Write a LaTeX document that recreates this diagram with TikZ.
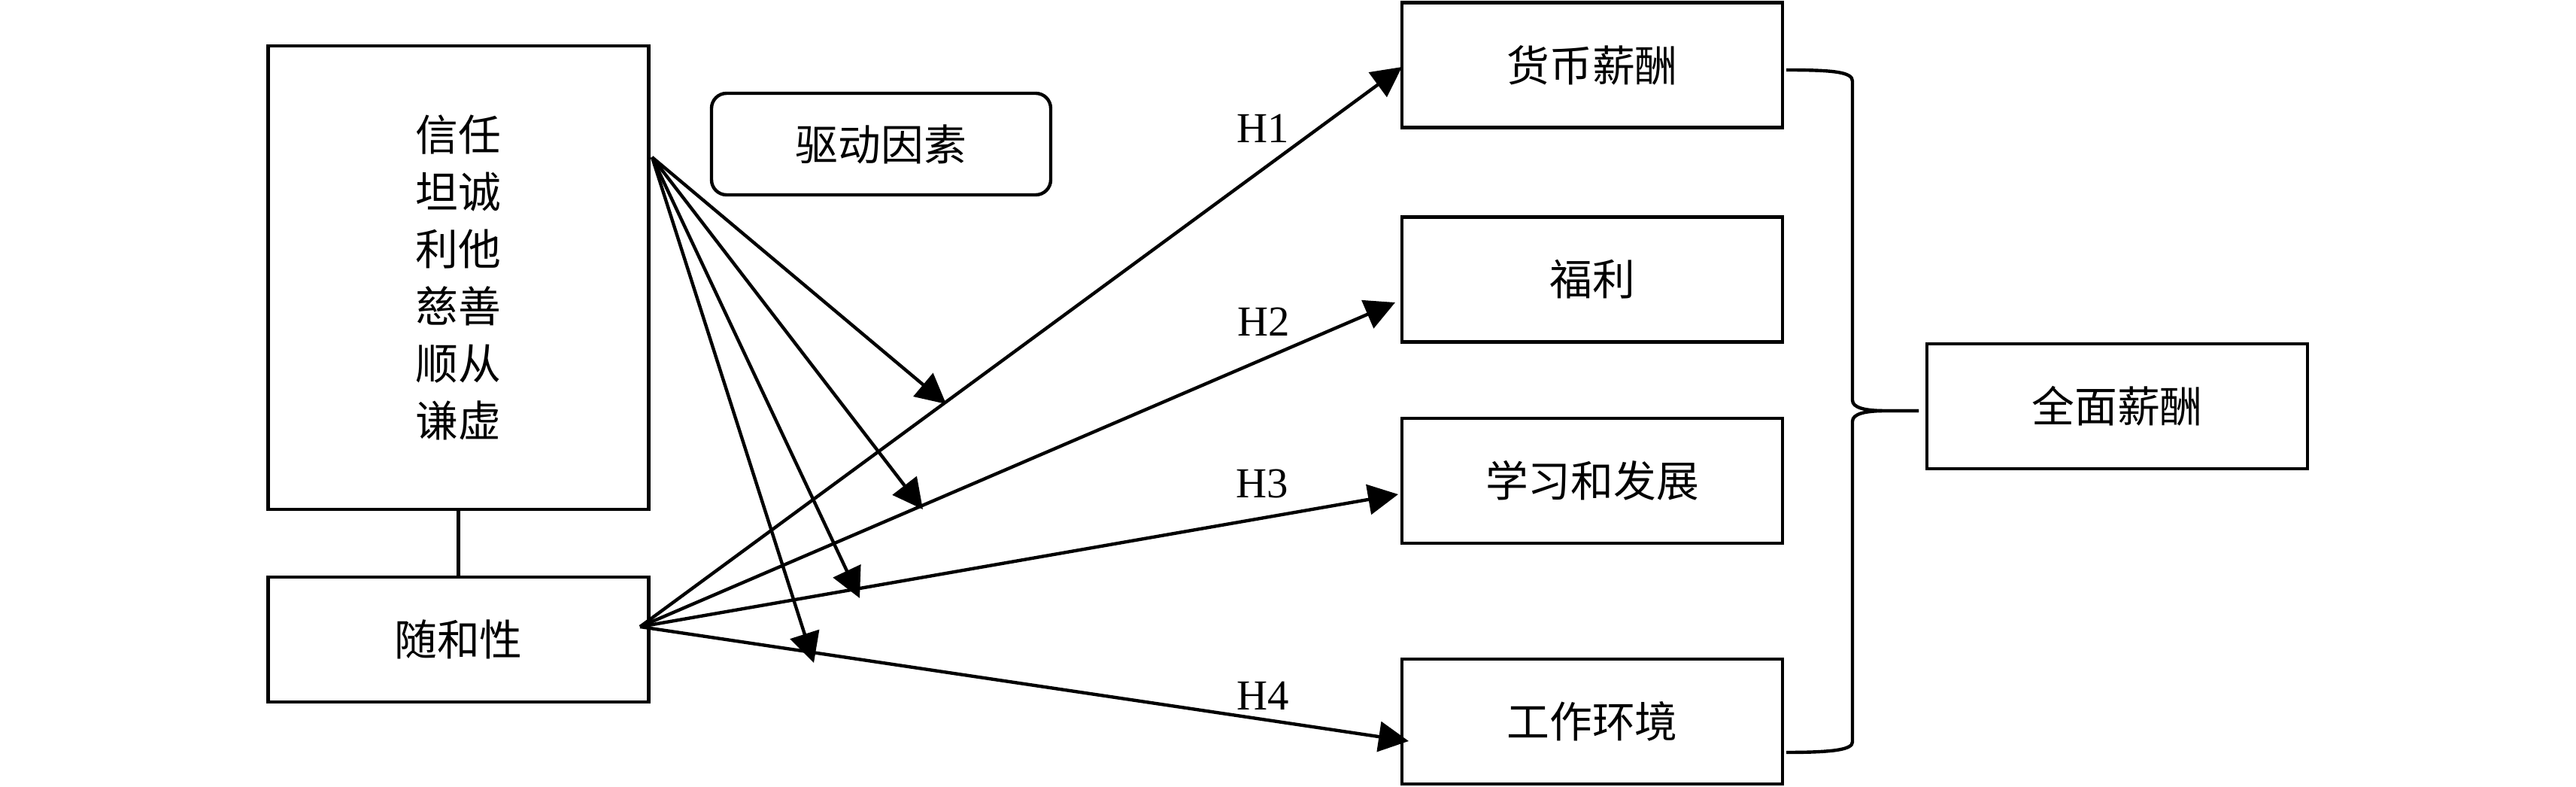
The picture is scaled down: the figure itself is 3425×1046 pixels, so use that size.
\documentclass[tikz,border=0pt]{standalone}
\usepackage{fontspec}
\setmainfont{Liberation Serif}
\newfontfamily\cjk{Noto Sans CJK SC}
\usetikzlibrary{arrows.meta}
\begin{document}
\begin{tikzpicture}[x=0.25pt,y=-0.25pt,line width=1.1pt,
  box/.style={draw,line width=1.1pt,minimum width=126.5pt,minimum height=41.5pt,
    inner sep=0pt,font=\cjk\fontsize{14.2}{19}\selectfont},
  arr/.style={-{Triangle[length=10pt,width=10pt]}},
  lab/.style={font=\fontsize{14.2}{17}\selectfont,inner sep=0pt}]
\useasboundingbox (0,0) rectangle (3425,1046);
% left side
\node[box,minimum height=154pt,align=center] (traits) at (609.5,369)
  {信任\\坦诚\\利他\\慈善\\顺从\\谦虚};
\node[box] (agree) at (609.5,850) {随和性};
\node[box,rounded corners=5pt,minimum width=112.75pt,minimum height=33.75pt] (driver) at (1171.5,191.5) {驱动因素};
% right side
\node[box] (money) at (2117,86.5) {货币薪酬};
\node[box] (welfare) at (2117,371.5) {福利};
\node[box] (learn) at (2117,639) {学习和发展};
\node[box] (env) at (2117,959) {工作环境};
\node[box] (total) at (2815,540) {全面薪酬};
\draw (traits) -- (agree);
% sources and targets
\coordinate (s1) at (867,209);
\coordinate (s2) at (851,833);
\coordinate (t1) at (1258,537);
\coordinate (t2) at (1227,677);
\coordinate (t3) at (1143,795);
\coordinate (t4) at (1082,881);
\coordinate (h1) at (1864,89);
\coordinate (h2) at (1855,402);
\coordinate (h3) at (1859,657);
\coordinate (h4) at (1873,985);
\draw[arr] (s2) -- (h1);
\draw[arr] (s2) -- (h2);
\draw[arr] (s2) -- (h3);
\draw[arr] (s2) -- (h4);
\draw[arr] (s1) -- (t1);
\draw[arr] (s1) -- (t2);
\draw[arr] (s1) -- (t3);
\draw[arr] (s1) -- (t4);
\node[lab] (l1) at (1679,171) {H1};
\node[lab] (l2) at (1680,428) {H2};
\node[lab] (l3) at (1678,643) {H3};
\node[lab] (l4) at (1679,925) {H4};
% brace
\coordinate (b1) at (2375,93);
\coordinate (b2) at (2375,1000);
\coordinate (bc) at (2551,546);
\draw (b1) .. controls (2440,93) and (2463,96) .. (2463,108) -- (2463,532)
  .. controls (2463,542) and (2480,546) .. (2507,546) -- (bc);
\draw (bc) -- (2507,546) .. controls (2480,546) and (2463,550) .. (2463,560)
  -- (2463,986) .. controls (2463,996) and (2440,1000) .. (b2);
\end{tikzpicture}
\end{document}
